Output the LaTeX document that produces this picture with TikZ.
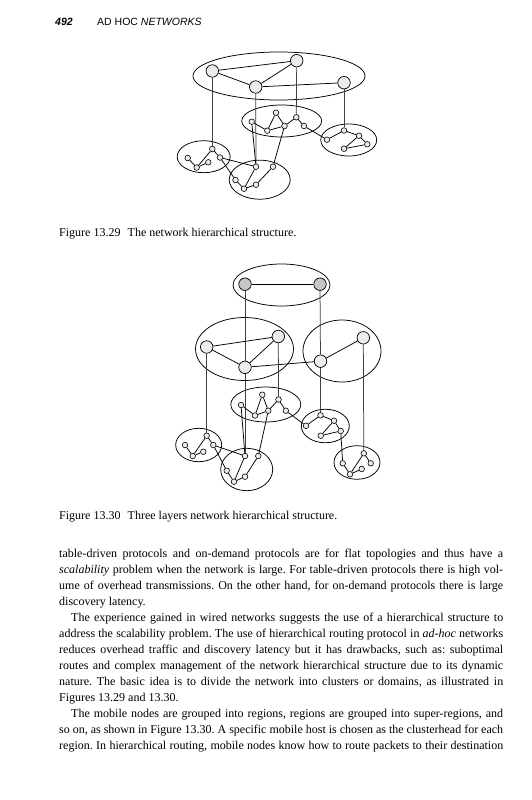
\documentclass[tikz,border=0pt]{standalone}
\usepackage{fontspec}
\setmainfont{Liberation Serif}
\newfontfamily\headfont{Liberation Sans}
\usetikzlibrary{shapes.geometric}
\frenchspacing

\begin{document}
\begin{tikzpicture}[
    x=1pt, y=-1pt,
    region/.style={
        draw,
        ellipse,
        inner sep=0pt,
        line width=0.75pt
    },
    hub/.style={
        draw,
        circle,
        fill=gray!15,
        minimum size=12.5pt,
        inner sep=0pt,
        line width=0.7pt
    },
    head/.style={
        hub,
        fill=gray!45
    },
    host/.style={
        draw,
        circle,
        fill=gray!15,
        minimum size=5.6pt,
        inner sep=0pt,
        line width=0.6pt
    },
    link/.style={
        line width=0.75pt
    },
    drop/.style={
        line width=0.75pt,
        black!75
    },
    txt/.style={
        inner sep=0pt,
        anchor=base west,
        font=\fontsize{12}{16}\selectfont
    },
    runhead/.style={
        inner sep=0pt,
        anchor=base west,
        font=\headfont\fontsize{10.5}{12}\selectfont
    }
]
\useasboundingbox[fill=white] (0,0) rectangle (531,800);

%--- page head ---
\node[runhead] (pageno) at (55,25.5) {\textbf{\textit{492}}};
\node[runhead] (title) at (97,25.5) {AD HOC \textit{NETWORKS}};

%=== Figure 13.29 ===
%--- regions ---
\node[region, minimum width=172pt, minimum height=48pt] (top) at (279,76) {};
\node[region, minimum width=80pt, minimum height=32pt] (midr) at (281.7,121) {};
\node[region, minimum width=56pt, minimum height=32pt] (rgtr) at (348.7,140) {};
\node[region, minimum width=53pt, minimum height=32pt] (lftr) at (203.7,156.7) {};
\node[region, minimum width=61pt, minimum height=39pt] (botr) at (259.7,179.7) {};

%--- upper level ---
\node[hub] (a) at (212.3,71) {};
\node[hub] (b) at (296.7,60.7) {};
\node[hub] (c) at (255.7,87) {};
\node[hub] (d) at (344,82.7) {};

%--- middle region ---
\node[host] (m1) at (251.7,121.7) {};
\node[host] (m2) at (267.3,130.7) {};
\node[host] (m3) at (276,112.7) {};
\node[host] (m4) at (284.5,126) {};
\node[host] (m5) at (296.3,117.3) {};
\node[host] (m6) at (304,126) {};

%--- right region ---
\node[host] (r1) at (327,139.7) {};
\node[host] (r2) at (344,130.5) {};
\node[host] (r3) at (359,135.7) {};
\node[host] (r4) at (367.3,144.3) {};
\node[host] (r5) at (344,148.7) {};

%--- left region ---
\node[host] (l1) at (212.3,149) {};
\node[host] (l2) at (220,157.5) {};
\node[host] (l3) at (187.7,158) {};
\node[host] (l4) at (196.7,167.5) {};
\node[host] (l5) at (208.3,162.3) {};

%--- bottom region ---
\node[host] (b1) at (256,166.7) {};
\node[host] (b2) at (273,166.7) {};
\node[host] (b3) at (235.5,180) {};
\node[host] (b4) at (244,188.7) {};
\node[host] (b5) at (256,184.7) {};

%--- links ---
\draw[link] (a) -- (b) -- (c) -- (a);
\draw[link] (c) -- (d);
\draw[drop] (a) -- (l1);
\draw[drop] (c) -- (b1);
\draw[drop] (b) -- (m5);
\draw[drop] (d) -- (r2);
\draw[link] (m1) -- (m2) -- (m3) -- (m4) -- (m5) -- (m6) -- (r1);
\draw[link] (m2) -- (m4);
\draw[link] (m1) -- (b1);
\draw[link] (m4) -- (b2);
\draw[link] (r1) -- (r2) -- (r3) -- (r4) -- (r5) -- (r3);
\draw[link] (l3) -- (l4) -- (l1) -- (l2);
\draw[link] (l4) -- (l5);
\draw[link] (l2) -- (b1);
\draw[link] (l2) -- (b3);
\draw[link] (b3) -- (b4) -- (b1);
\draw[link] (b4) -- (b5) -- (b2);

\node[txt] (cap1) at (59,236) {Figure 13.29\hspace{0.6em}The network hierarchical structure.};

%=== Figure 13.30 ===
%--- regions ---
\node[region, minimum width=97pt, minimum height=42pt] (qtop) at (281.5,285) {};
\node[region, minimum width=98pt, minimum height=63pt] (qleft) at (244.5,349) {};
\node[region, minimum width=78pt, minimum height=62pt] (qright) at (342,351) {};
\node[region, minimum width=70pt, minimum height=35pt] (qmidr) at (265.8,404.5) {};
\node[region, minimum width=48pt, minimum height=33.5pt] (qrgtr) at (325.3,426) {};
\node[region, minimum width=46pt, minimum height=33.6pt] (qfarr) at (357,462.5) {};
\node[region, minimum width=46pt, minimum height=33.4pt] (qlftr) at (198.7,445) {};
\node[region, minimum width=52pt, minimum height=42.4pt] (qbotr) at (246.7,469.5) {};

%--- top level ---
\node[head] (t1) at (245,284.2) {};
\node[head] (t2) at (320,284.2) {};

%--- middle level ---
\node[hub] (u1) at (206.7,347) {};
\node[hub] (u2) at (278.3,336.5) {};
\node[hub] (u3) at (245,367.3) {};
\node[hub] (v1) at (320.5,361.2) {};
\node[hub] (v2) at (363.3,337.8) {};

%--- middle region ---
\node[host] (n1) at (241,405) {};
\node[host] (n2) at (255,415.5) {};
\node[host] (n3) at (262.3,394.7) {};
\node[host] (n4) at (268.3,410.7) {};
\node[host] (n5) at (278.5,399.5) {};
\node[host] (n6) at (285.8,410.7) {};

%--- right region ---
\node[host] (s1) at (306,425.8) {};
\node[host] (s2) at (320.5,415.3) {};
\node[host] (s3) at (334,420.7) {};
\node[host] (s4) at (340.7,431) {};
\node[host] (s5) at (320.7,435.7) {};

%--- far right region ---
\node[host] (f1) at (342.7,463.3) {};
\node[host] (f2) at (363.8,453.3) {};
\node[host] (f3) at (370.7,463.3) {};
\node[host] (f4) at (350,474.3) {};
\node[host] (f5) at (361.7,469) {};

%--- left region ---
\node[host] (k1) at (206.7,435.7) {};
\node[host] (k2) at (213.3,445) {};
\node[host] (k3) at (185,445) {};
\node[host] (k4) at (192.7,456) {};
\node[host] (k5) at (203.3,451.7) {};

%--- bottom region ---
\node[host] (g1) at (245,456) {};
\node[host] (g2) at (258.3,456) {};
\node[host] (g3) at (226.7,470.7) {};
\node[host] (g4) at (234,481.7) {};
\node[host] (g5) at (245,476.7) {};

%--- links ---
\draw[link] (t1) -- (t2);
\draw[drop] (t1) -- (u3);
\draw[drop] (t2) -- (v1);
\draw[link] (u1) -- (u2) -- (u3) -- (u1);
\draw[link] (u3) -- (v1) -- (v2);
\draw[drop] (u1) -- (k1);
\draw[drop] (u3) -- (g1);
\draw[drop] (u2) -- (n5);
\draw[drop] (v1) -- (s2);
\draw[drop] (v2) -- (f2);
\draw[link] (n1) -- (n2) -- (n3) -- (n4) -- (n5) -- (n6) -- (s1);
\draw[link] (n2) -- (n4);
\draw[link] (n1) -- (g1);
\draw[link] (n4) -- (g2);
\draw[link] (s1) -- (s2) -- (s3) -- (s4) -- (s5) -- (s3);
\draw[link] (s4) -- (f1);
\draw[link] (f1) -- (f4) -- (f2) -- (f3);
\draw[link] (f4) -- (f5);
\draw[link] (k3) -- (k4) -- (k1) -- (k2);
\draw[link] (k4) -- (k5);
\draw[link] (k2) -- (g1);
\draw[link] (k2) -- (g3);
\draw[link] (g3) -- (g4) -- (g1);
\draw[link] (g4) -- (g5) -- (g2);

\node[txt] (cap2) at (59,519.5) {Figure 13.30\hspace{0.6em}Three layers network hierarchical structure.};

%--- body text ---
\node[txt] (line1) at (59,557.0) {\makebox[444pt][s]{table-driven protocols and on-demand protocols are for flat topologies and thus have a}};
\node[txt] (line2) at (59,573.0) {\makebox[444pt][s]{\textit{scalability} problem when the network is large. For table-driven protocols there is high vol-}};
\node[txt] (line3) at (59,589.0) {\makebox[444pt][s]{ume of overhead transmissions. On the other hand, for on-demand protocols there is large}};
\node[txt] (line4) at (59,605.0) {discovery latency.};
\node[txt] (line5) at (71,621.0) {\makebox[432pt][s]{The experience gained in wired networks suggests the use of a hierarchical structure to}};
\node[txt] (line6) at (59,637.0) {\makebox[444pt][s]{address the scalability problem. The use of hierarchical routing protocol in \textit{ad-hoc} networks}};
\node[txt] (line7) at (59,653.0) {\makebox[444pt][s]{reduces overhead traffic and discovery latency but it has drawbacks, such as: suboptimal}};
\node[txt] (line8) at (59,669.0) {\makebox[444pt][s]{routes and complex management of the network hierarchical structure due to its dynamic}};
\node[txt] (line9) at (59,685.0) {\makebox[444pt][s]{nature. The basic idea is to divide the network into clusters or domains, as illustrated in}};
\node[txt] (line10) at (59,701.0) {Figures 13.29 and 13.30.};
\node[txt] (line11) at (71,717.0) {\makebox[432pt][s]{The mobile nodes are grouped into regions, regions are grouped into super-regions, and}};
\node[txt] (line12) at (59,733.0) {\makebox[444pt][s]{so on, as shown in Figure 13.30. A specific mobile host is chosen as the clusterhead for each}};
\node[txt] (line13) at (59,749.0) {\makebox[444pt][s]{region. In hierarchical routing, mobile nodes know how to route packets to their destination}};

\end{tikzpicture}
\end{document}
